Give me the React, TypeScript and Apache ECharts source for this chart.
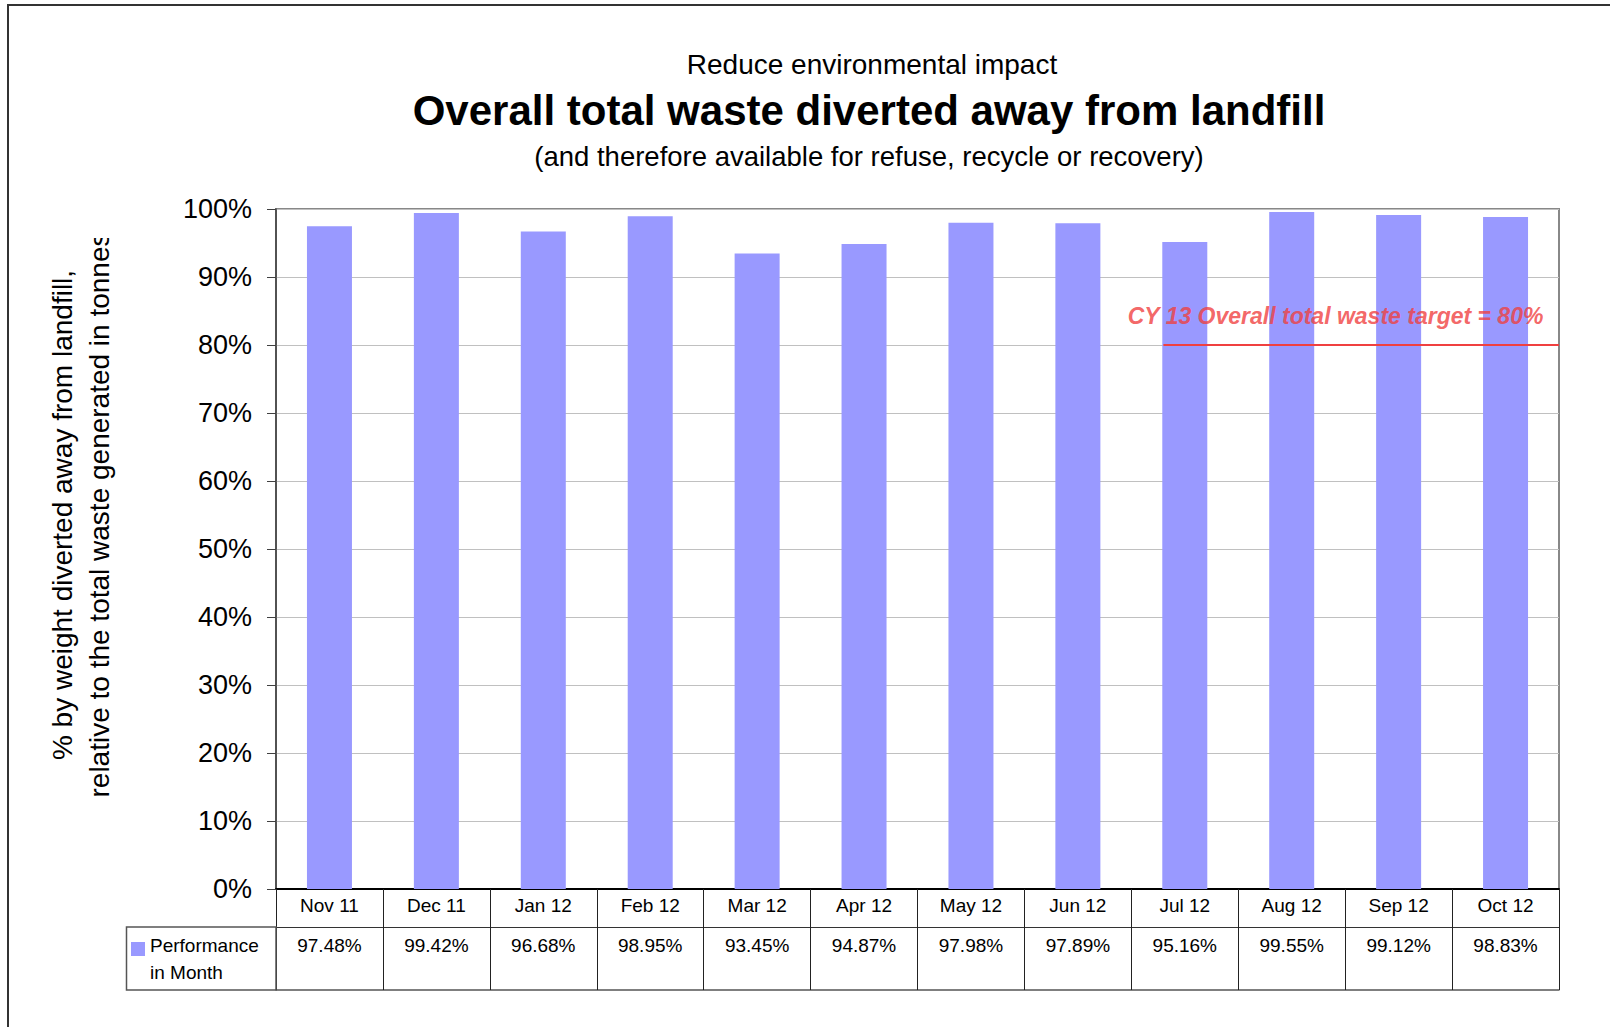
import React, { useEffect, useRef } from 'react';
import * as echarts from 'echarts';

// ---- data ----
const months = ['Nov 11', 'Dec 11', 'Jan 12', 'Feb 12', 'Mar 12', 'Apr 12', 'May 12', 'Jun 12', 'Jul 12', 'Aug 12', 'Sep 12', 'Oct 12'];
const performance = [97.48, 99.42, 96.68, 98.95, 93.45, 94.87, 97.98, 97.89, 95.16, 99.55, 99.12, 98.83];
const yMin = 0;
const yMax = 100;
const yInterval = 10;
const target = 80;
// target line drawn on the month scale (in category-index units)
const targetLineFrom = 8.3;
const targetLineTo = 12;
const targetLabelAt = 9.91;
const targetLabel = 'CY 13 Overall total waste target = 80%';
const kicker = 'Reduce environmental impact';
const mainTitle = 'Overall total waste diverted away from landfill';
const subTitle = '(and therefore available for refuse, recycle or recovery)';
const yName = ['% by weight diverted away from landfill,', 'relative to the total waste generated in tonnes'];
const seriesName = 'Performance in Month';
const legendLines = ['Performance', 'in Month'];

// ---- style / layout ----
const FONT = '"Liberation Sans", Arial, Helvetica, sans-serif';
const BAR = '#9999FF';
const RED = '#F04040';
const W = 1610;
const H = 1027;
const G = { left: 276, top: 209, right: 1559, bottom: 889 };
const ROW1 = 38;
const ROW2 = 101;
const TABLE_LEFT = 126.5;

export default function App() {
  const ref = useRef<HTMLDivElement>(null);
  useEffect(() => {
    if (!ref.current) return;
    const chart = echarts.init(ref.current, undefined, { renderer: 'svg' });
    const option: any = {
      animation: false,
      backgroundColor: '#ffffff',
      textStyle: { fontFamily: FONT },
      grid: {
        left: G.left,
        top: G.top,
        width: G.right - G.left,
        height: G.bottom - G.top,
        show: true,
        borderColor: '#888888',
        borderWidth: 2,
        backgroundColor: 'transparent',
      },
      legend: {
        data: [seriesName],
        left: 131,
        top: 936,
        padding: 0,
        itemWidth: 14,
        itemHeight: 14,
        icon: 'rect',
        formatter: () => `{p|${legendLines[0]}}\n{m|${legendLines[1]}}`,
        textStyle: {
          fontSize: 19,
          color: '#000',
          fontFamily: FONT,
          rich: {
            p: { fontSize: 19, color: '#000', fontFamily: FONT, lineHeight: 47 },
            m: { fontSize: 19, color: '#000', fontFamily: FONT, lineHeight: 7 },
          },
        },
      },
      xAxis: [
        {
          type: 'category',
          data: months,
          position: 'bottom',
          boundaryGap: true,
          axisLine: { show: true, lineStyle: { color: '#000', width: 2 } },
          axisTick: { show: true, length: ROW2, interval: 0, lineStyle: { color: '#222', width: 1 } },
          axisLabel: { interval: 0, margin: 7, fontSize: 19, color: '#000', fontFamily: FONT },
          splitLine: { show: false },
        },
        {
          type: 'category',
          data: months,
          position: 'bottom',
          offset: ROW1,
          axisLine: { show: true, onZero: false, lineStyle: { color: '#333', width: 1.2 } },
          axisTick: { show: false },
          axisLabel: {
            interval: 0,
            margin: 9,
            fontSize: 19,
            color: '#000',
            fontFamily: FONT,
            formatter: (_v: string, i: number) => performance[i].toFixed(2) + '%',
          },
        },
        {
          type: 'category',
          data: months,
          position: 'bottom',
          offset: ROW2,
          axisLine: { show: true, onZero: false, lineStyle: { color: '#555', width: 1.5 } },
          axisTick: { show: false },
          axisLabel: { show: false },
        },
        { type: 'value', min: 0, max: months.length, show: false },
      ],
      yAxis: {
        type: 'value',
        min: yMin,
        max: yMax,
        interval: yInterval,
        axisLine: { show: true, lineStyle: { color: '#404040', width: 1.5 } },
        axisTick: { show: true, length: 9, lineStyle: { color: '#404040', width: 1 } },
        axisLabel: { formatter: '{value}%', fontSize: 27, color: '#000', margin: 24, fontFamily: FONT },
        splitLine: { show: true, lineStyle: { color: '#c0c0c0', width: 1 } },
      },
      series: [
        {
          name: seriesName,
          type: 'bar',
          data: performance,
          barWidth: 45,
          xAxisIndex: 0,
          yAxisIndex: 0,
          itemStyle: { color: BAR },
        },
        {
          type: 'line',
          xAxisIndex: 3,
          yAxisIndex: 0,
          data: [[targetLineFrom, target], [targetLineTo, target]],
          symbol: 'none',
          lineStyle: { color: RED, width: 2 },
          z: 5,
          silent: true,
        },
        {
          type: 'scatter',
          xAxisIndex: 3,
          yAxisIndex: 0,
          data: [[targetLabelAt, target]],
          symbolSize: 0,
          silent: true,
          z: 6,
          label: {
            show: true,
            position: 'top',
            distance: 18,
            formatter: targetLabel,
            fontSize: 23,
            fontWeight: 'bold',
            fontStyle: 'italic',
            color: RED,
            fontFamily: FONT,
          },
        },
      ],
      graphic: [
        {
          type: 'rect',
          silent: true,
          z: 100,
          shape: { x: 8, y: 5, width: 1800, height: 1200 },
          style: { fill: 'none', stroke: '#333', lineWidth: 2 },
        },
        {
          type: 'rect',
          silent: true,
          z: 50,
          shape: { x: TABLE_LEFT, y: G.bottom + ROW1, width: G.left - TABLE_LEFT, height: ROW2 - ROW1 },
          style: { fill: 'none', stroke: '#555', lineWidth: 1.5 },
        },
        {
          type: 'text',
          x: 872,
          y: 64,
          style: { text: kicker, align: 'center', verticalAlign: 'middle', font: `28px ${FONT}`, fill: '#000' },
        },
        {
          type: 'text',
          x: 869,
          y: 110,
          style: { text: mainTitle, align: 'center', verticalAlign: 'middle', font: `bold 42px ${FONT}`, fill: '#000' },
        },
        {
          type: 'text',
          x: 869,
          y: 156,
          style: { text: subTitle, align: 'center', verticalAlign: 'middle', font: `27.5px ${FONT}`, fill: '#000' },
        },
        {
          type: 'text',
          x: 81,
          y: 515,
          rotation: Math.PI / 2,
          z: 10,
          style: {
            text: yName.join('\n'),
            align: 'center',
            verticalAlign: 'middle',
            font: `28px ${FONT}`,
            lineHeight: 37,
            fill: '#000',
          },
        },
        {
          type: 'rect',
          silent: true,
          z: 90,
          shape: { x: 84, y: 170, width: 40, height: 68 },
          style: { fill: '#ffffff' },
        },
      ],
    };
    chart.setOption(option);
    return () => chart.dispose();
  }, []);
  return <div ref={ref} style={{ position: 'fixed', left: 0, top: 0, width: W, height: H }} />;
}
